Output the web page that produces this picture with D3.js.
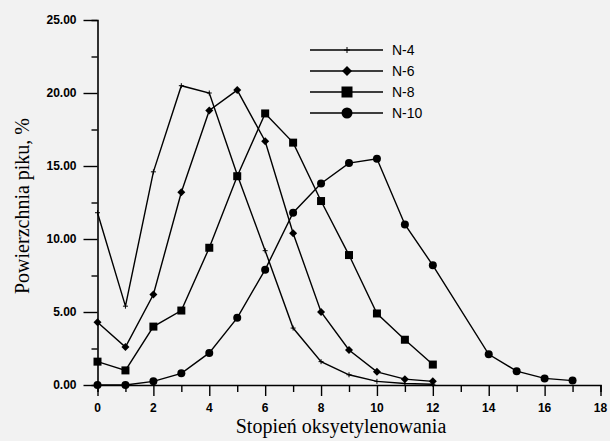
<!DOCTYPE html>
<html>
<head>
<meta charset="utf-8">
<script src="https://cdn.jsdelivr.net/npm/d3@7"></script>
<style>
  body { margin: 0; background: #f2f2f2; }
  svg { display: block; }
</style>
</head>
<body>
<div id="chart"></div>
<script>
// dane
const xN4 = [0, 1, 2, 3, 4, 5, 6, 7, 8, 9, 10, 11, 12];
const yN4 = [11.8, 5.4, 14.6, 20.5, 20.0, 14.4, 9.2, 3.9, 1.6, 0.7, 0.25, 0.1, 0.05];

const xN6 = [0, 1, 2, 3, 4, 5, 6, 7, 8, 9, 10, 11, 12];
const yN6 = [4.3, 2.6, 6.2, 13.2, 18.8, 20.2, 16.7, 10.4, 5.0, 2.4, 0.9, 0.4, 0.25];

const xN8 = [0, 1, 2, 3, 4, 5, 6, 7, 8, 9, 10, 11, 12];
const yN8 = [1.6, 1.0, 4.0, 5.1, 9.4, 14.3, 18.6, 16.6, 12.6, 8.9, 4.9, 3.1, 1.4];

const xN10 = [0, 1, 2, 3, 4, 5, 6, 7, 8, 9, 10, 11, 12, 14, 15, 16, 17];
const yN10 = [0.0, 0.0, 0.25, 0.8, 2.2, 4.6, 7.9, 11.8, 13.8, 15.2, 15.5, 11.0, 8.2, 2.1, 0.95, 0.45, 0.3];

const serie = ["N-4", "N-6", "N-8", "N-10"];
const xTicks = [0, 2, 4, 6, 8, 10, 12, 14, 16, 18];
const yTicks = [0, 5, 10, 15, 20, 25];

const width = 610, height = 441;
const svg = d3.select("#chart").append("svg")
  .attr("width", width).attr("height", height);

const x = d3.scaleLinear().domain([0, 18]).range([97.5, 600.5]);
const y = d3.scaleLinear().domain([0, 25]).range([385, 20]);

// osie
const axX = svg.append("g").attr("transform", `translate(0,${y(0)})`);
axX.call(d3.axisBottom(x).tickValues(d3.range(0, 19)).tickSize(7).tickFormat(""));
axX.call(g => g.selectAll(".tick line").filter(d => d % 2 === 0).attr("y2", 11));
axX.append("g").selectAll("text").data(xTicks).join("text")
  .attr("x", d => x(d)).attr("y", 27)
  .attr("text-anchor", "middle")
  .text(d => d);

const axY = svg.append("g").attr("transform", `translate(${x(0)},0)`);
axY.call(d3.axisLeft(y).tickValues(d3.range(0, 25.1, 2.5)).tickSize(6).tickFormat(""));
axY.call(g => g.selectAll(".tick line").filter(d => d % 5 === 0).attr("x2", -14));
axY.append("g").selectAll("text").data(yTicks).join("text")
  .attr("x", -21).attr("y", d => y(d) + 4)
  .attr("text-anchor", "end")
  .text(d => d.toFixed(2));

svg.selectAll(".domain").attr("stroke", "#000").attr("stroke-width", 1.6);
svg.selectAll(".tick line").attr("stroke", "#000").attr("stroke-width", 1.4);
svg.selectAll("g text")
  .attr("fill", "#000")
  .style("font-family", "'Liberation Sans', Arial, sans-serif")
  .style("font-size", "12px")
  .style("font-weight", "bold");

// tytuly osi
svg.append("text")
  .attr("x", 341).attr("y", 433)
  .attr("text-anchor", "middle")
  .style("font-family", "'Liberation Serif', 'Times New Roman', serif")
  .style("font-size", "20px")
  .text("Stopień oksyetylenowania");

svg.append("text")
  .attr("transform", "translate(29,206) rotate(-90)")
  .attr("text-anchor", "middle")
  .style("font-family", "'Liberation Serif', 'Times New Roman', serif")
  .style("font-size", "20px")
  .text("Powierzchnia piku, %");

// znaczniki
function marker(sel, typ, s) {
  if (typ === "N-4") {
    sel.append("path").attr("d", `M0,${-s}V${s}M${-s},0H${s}`)
      .attr("stroke", "#000").attr("stroke-width", 1);
  } else if (typ === "N-6") {
    sel.append("path").attr("d", `M0,${-s}L${s},0L0,${s}L${-s},0Z`).attr("fill", "#000");
  } else if (typ === "N-8") {
    sel.append("rect").attr("x", -s).attr("y", -s).attr("width", 2 * s).attr("height", 2 * s).attr("fill", "#000");
  } else {
    sel.append("circle").attr("r", s).attr("fill", "#000");
  }
}

const dane = [
  { nazwa: "N-4", xs: xN4, ys: yN4, s: 2.5 },
  { nazwa: "N-6", xs: xN6, ys: yN6, s: 4 },
  { nazwa: "N-8", xs: xN8, ys: yN8, s: 4 },
  { nazwa: "N-10", xs: xN10, ys: yN10, s: 4 }
];

const line = d3.line().x(d => x(d[0])).y(d => y(d[1]));

dane.forEach(d => {
  const pts = d.xs.map((v, i) => [v, d.ys[i]]);
  svg.append("path").datum(pts)
    .attr("d", line)
    .attr("fill", "none")
    .attr("stroke", "#000")
    .attr("stroke-width", 1.4);
  pts.forEach(p => {
    const g = svg.append("g").attr("transform", `translate(${x(p[0])},${y(p[1])})`);
    marker(g, d.nazwa, d.s);
  });
});

// legenda
const leg = svg.append("g");
const legY = [50, 71, 92, 113];
const legS = [3, 5, 5.5, 5.5];
serie.forEach((n, i) => {
  const g = leg.append("g").attr("transform", `translate(0,${legY[i]})`);
  g.append("line").attr("x1", 310).attr("x2", 383).attr("stroke", "#000").attr("stroke-width", 1.4);
  const m = g.append("g").attr("transform", "translate(347,0)");
  marker(m, n, legS[i]);
  g.append("text").attr("x", 392).attr("y", 5)
    .style("font-family", "'Liberation Sans', Arial, sans-serif")
    .style("font-size", "14px")
    .text(n);
});
</script>
</body>
</html>
